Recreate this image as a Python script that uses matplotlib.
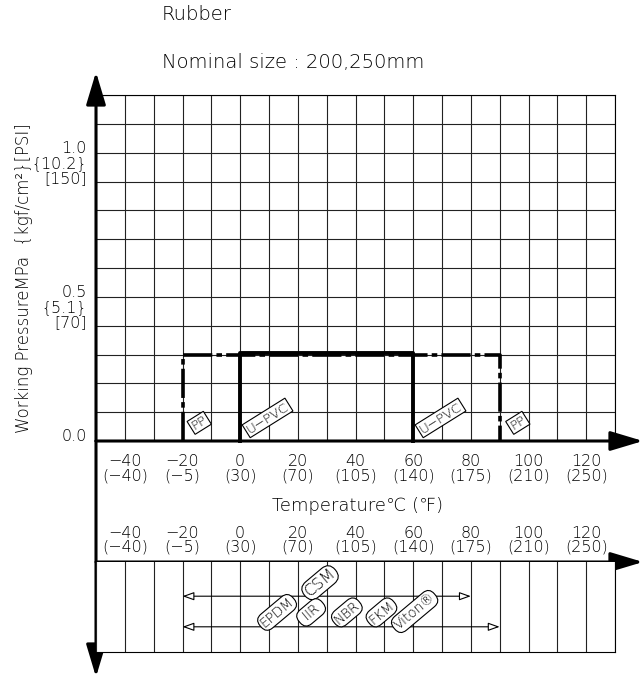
import numpy as np
import matplotlib.pyplot as plt
plt.rcParams['font.family'] = ['DejaVu Sans']
plt.rcParams['font.weight'] = 'light'
plt.rcParams['lines.scale_dashes'] = False

# temperature ticks (deg C and deg F)
temp_c = [-40, -20, 0, 20, 40, 60, 80, 100, 120]
temp_f = [-40, -5, 30, 70, 105, 140, 175, 210, 250]
# pressure labels (MPa, kgf/cm2, PSI)
press_mpa = [0.0, 0.5, 1.0]
press_kgf = ['', '{5.1}', '{10.2}']
press_psi = ['', '[70]', '[150]']

# pipe material limits
pp_temp = [-20, -20, 90, 90]
pp_press = [0, 0.3, 0.3, 0]
upvc_temp = [0, 0, 60, 60]
upvc_press = [0, 0.305, 0.305, 0]
pipe_labels = ['PP', 'U\u2212PVC', 'U\u2212PVC', 'PP']
pipe_label_t = [-14.2, 9.5, 69.5, 96.3]
pipe_label_p = [0.063, 0.08, 0.08, 0.063]

# rubber ranges (lower panel)
rubber_ranges = [(-20, 80), (-20, 90)]
rubber_level = [0.62, 0.28]
rubber_names = ['CSM', 'EPDM', ' IIR ', 'NBR', 'FKM', 'Viton\u00ae']
rubber_t = [27.7, 12.8, 24.6, 37, 49, 60.5]
rubber_y = [0.77, 0.44, 0.44, 0.44, 0.44, 0.45]

W, H = 643, 678
fig = plt.figure(figsize=(W / 100, H / 100), dpi=100)

def px_box(l, t, r, b):
    return [l / W, 1 - b / H, (r - l) / W, (b - t) / H]

def fp(x, y):
    return (x, H - y)

def mlabel(v):
    return str(v).replace('-', '\u2212')

# upper chart
ax = fig.add_axes(px_box(96, 95, 615, 441))
ax.set_xlim(-50, 130)
ax.set_ylim(0, 1.2)
ax.set_xticks(np.arange(-50, 131, 10))
ax.set_yticks(np.arange(0, 1.21, 0.1))
ax.grid(True, color='#222222', lw=0.8)
ax.tick_params(length=0, labelleft=False, labelbottom=False)
for s in ['top', 'right']:
    ax.spines[s].set_linewidth(0.8)
for s in ['left', 'bottom']:
    ax.spines[s].set_visible(False)

for c, f in zip(temp_c, temp_f):
    ax.annotate(mlabel(c) + '\n(' + mlabel(f) + ')', (c, 0),
                xycoords=('data', 'axes fraction'), xytext=(0, -13),
                textcoords='offset pixels', ha='center', va='top',
                fontsize=11.5, linespacing=0.95)

for p, k, s in zip(press_mpa, press_kgf, press_psi):
    txt = '\n'.join([t for t in [f'{p:.1f}', k, s] if t])
    ax.annotate(txt, (-50, p), xytext=(-9, 12), textcoords='offset pixels',
                ha='right', va='top', fontsize=11.5, linespacing=1.0,
                annotation_clip=False)

ax.plot(pp_temp, pp_press, color='black', lw=2.6,
        linestyle=(0, (21, 3, 4, 3)), clip_on=False, zorder=4)
ax.plot(upvc_temp, upvc_press, color='black', lw=2.8, clip_on=False, zorder=5)

for lab, t, p in zip(pipe_labels, pipe_label_t, pipe_label_p):
    ax.text(t, p, lab, rotation=32, ha='center', va='center', fontsize=9.5,
            zorder=6, bbox=dict(boxstyle='square,pad=0.12', fc='white',
                                ec='black', lw=0.8))

# lower chart
ax2 = fig.add_axes(px_box(96, 562, 615, 652))
ax2.set_xlim(-50, 130)
ax2.set_ylim(0, 1)
ax2.set_xticks(np.arange(-50, 131, 10))
ax2.set_yticks([])
ax2.grid(True, axis='x', color='#222222', lw=0.8)
ax2.tick_params(length=0, labelbottom=False)
for s in ['bottom', 'right']:
    ax2.spines[s].set_linewidth(0.8)
for s in ['left', 'top']:
    ax2.spines[s].set_visible(False)

for c, f in zip(temp_c, temp_f):
    ax2.annotate(mlabel(c) + '\n(' + mlabel(f) + ')', (c, 1),
                 xycoords=('data', 'axes fraction'), xytext=(0, 7),
                 textcoords='offset pixels', ha='center', va='bottom',
                 fontsize=11.5, linespacing=0.95)

for (lo, hi), y in zip(rubber_ranges, rubber_level):
    ax2.annotate('', xy=(lo, y), xytext=(hi, y),
                 arrowprops=dict(arrowstyle='<|-|>,head_length=0.7,head_width=0.25',
                                 fc='white', ec='black', lw=0.8,
                                 mutation_scale=10, shrinkA=0, shrinkB=0))

for name, t, y in zip(rubber_names, rubber_t, rubber_y):
    ax2.text(t, y, name, rotation=40, ha='center', va='center',
             fontsize=11.5 if name == 'CSM' else 9.8, zorder=6,
             bbox=dict(boxstyle='round,pad=0.15,rounding_size=0.6',
                       fc='white', ec='black', lw=0.8))

# axis arrows
head = dict(arrowstyle='-|>,head_length=2.0,head_width=0.6', color='black',
            lw=2.2, mutation_scale=10, shrinkA=0, shrinkB=0)
for start, end in [((96, 441), (96, 72)), ((96, 441), (96, 677)),
                   ((96, 441), (643, 441)), ((96, 562), (643, 562))]:
    ax.annotate('', xy=fp(*end), xytext=fp(*start), xycoords='figure pixels',
                textcoords='figure pixels', arrowprops=head,
                annotation_clip=False)

fig.text(162 / W, 1 - 15 / H, 'Rubber', fontsize=14, va='center')
fig.text(162 / W, 1 - 63 / H, 'Nominal size : 200,250mm', fontsize=14,
         va='center')
fig.text(24 / W, 1 - 278 / H, 'Working PressureMPa  {kgf/cm\u00b2}[PSI]',
         rotation=90, ha='center', va='center', fontsize=12)
fig.text(357 / W, 1 - 506 / H, 'Temperature\u2103 (\u2109)', ha='center',
         va='center', fontsize=13)

fig.savefig('out.png', dpi=100)
